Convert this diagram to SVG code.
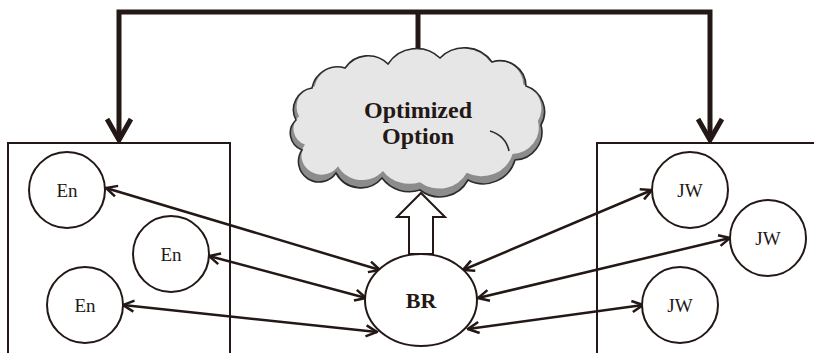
<svg xmlns="http://www.w3.org/2000/svg" width="814" height="353" viewBox="0 0 814 353">
  <style>
    .frame { fill: none; stroke: #231815; stroke-width: 2; }
    .node circle, .node ellipse { fill: #ffffff; stroke: #231815; stroke-width: 2; }
    text { font-family: "Liberation Serif", "DejaVu Serif", "Times New Roman", serif; fill: #231815; text-anchor: middle; }
    .small { font-size: 19px; }
    .link { fill: none; stroke: #231815; stroke-width: 2.5; marker-start: url(#tip); marker-end: url(#tip); }
    .bus { fill: none; stroke: #231815; stroke-width: 5; stroke-linejoin: miter; }
  </style>
  <defs>
    <marker id="tip" viewBox="0 0 14 14" refX="12.5" refY="7" markerWidth="14" markerHeight="14" markerUnits="userSpaceOnUse" orient="auto-start-reverse">
      <path d="M1.5,1.5 L12.5,7 L1.5,12.5" fill="none" stroke="#231815" stroke-width="2.5" stroke-linejoin="miter"/>
    </marker>
    <marker id="bigtip" viewBox="0 0 28 28" refX="24" refY="14" markerWidth="28" markerHeight="28" markerUnits="userSpaceOnUse" orient="auto-start-reverse">
      <path d="M3,2 L24,14 L3,26" fill="none" stroke="#231815" stroke-width="5" stroke-linejoin="miter"/>
    </marker>
    <path id="cloudShape" d="M296,120 A22,22 0 0 1 312,88 A26,26 0 0 1 345,68 A28,28 0 0 1 388,64 A34,34 0 0 1 440,58 A34,34 0 0 1 492,62 A26,26 0 0 1 526,86 A27,27 0 0 1 541,125 A28,28 0 0 1 515,160 A33,33 0 0 1 468,180 A32,32 0 0 1 420,190 A34,34 0 0 1 382,178 A28,28 0 0 1 336,173 A20,20 0 0 1 302,150 A18,18 0 0 1 296,120 Z"/>
  </defs>

  <!-- side panels -->
  <path class="frame" d="M8,353 V143 H230 V353"/>
  <path class="frame" d="M597,353 V143 H814"/>

  <!-- feedback bus from the cloud to both panels -->
  <g id="connectors">
    <path class="bus" d="M119,140 V12 H710 V140" marker-start="url(#bigtip)" marker-end="url(#bigtip)"/>
    <path class="bus" d="M418,12 V62"/>
    <line class="link" x1="106" y1="188" x2="380" y2="270"/>
    <line class="link" x1="209" y1="256" x2="366" y2="298"/>
    <line class="link" x1="123" y1="305" x2="377" y2="332"/>
    <line class="link" x1="652" y1="190" x2="463" y2="270"/>
    <line class="link" x1="730" y1="238" x2="478" y2="298"/>
    <line class="link" x1="643" y1="305" x2="468" y2="329"/>
    <!-- hollow block arrow BR -> cloud -->
    <path d="M409,254 V217 H397 L421,193 L445,217 H433 V254 Z" fill="#ffffff" stroke="#231815" stroke-width="2" stroke-linejoin="miter"/>
  </g>

  <g id="cloud">
    <!-- dark rim underneath, lighter body lifted slightly to leave a shaded lower edge -->
    <use href="#cloudShape" fill="#8c8c8c"/>
    <use href="#cloudShape" fill="#e6e6e6" transform="translate(418,122) scale(0.975,0.94) translate(-418,-126)"/>
    <use href="#cloudShape" fill="none" stroke="#2b2b2b" stroke-width="1.6"/>
    <path d="M490,131 Q506,136 509,151" fill="none" stroke="#2b2b2b" stroke-width="1.6"/>
    <text x="418" y="118" font-size="24" font-weight="bold">Optimized</text>
    <text x="418" y="144" font-size="24" font-weight="bold">Option</text>
  </g>

  <g id="en1" class="node"><circle cx="67" cy="190" r="38"/><text class="small" x="67" y="197">En</text></g>
  <g id="en2" class="node"><circle cx="171" cy="254" r="38"/><text class="small" x="171" y="261">En</text></g>
  <g id="en3" class="node"><circle cx="85" cy="305" r="38"/><text class="small" x="85" y="312">En</text></g>

  <g id="jw1" class="node"><circle cx="690" cy="190" r="38"/><text class="small" x="690" y="197">JW</text></g>
  <g id="jw2" class="node"><circle cx="768" cy="238" r="38"/><text class="small" x="768" y="245">JW</text></g>
  <g id="jw3" class="node"><circle cx="680" cy="305" r="38"/><text class="small" x="680" y="312">JW</text></g>

  <g id="br" class="node"><ellipse cx="421" cy="300" rx="56" ry="46"/><text x="421" y="308" font-size="22" font-weight="bold">BR</text></g>
</svg>
